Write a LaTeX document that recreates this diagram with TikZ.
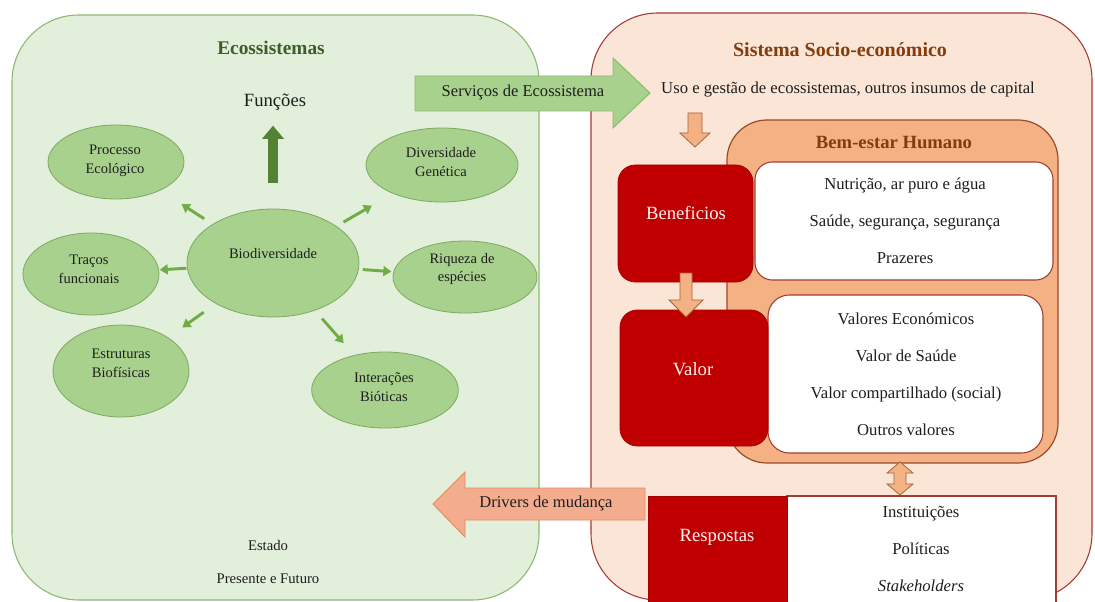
\documentclass[tikz,border=0pt]{standalone}
\usepackage{fontspec}
\setmainfont{Liberation Serif}
\usetikzlibrary{arrows.meta,calc,shapes.geometric}

\definecolor{ecobg}{HTML}{E2EFDA}
\definecolor{ecoline}{HTML}{8DB870}
\definecolor{ellfill}{HTML}{A9D18E}
\definecolor{ellline}{HTML}{7EA862}
\definecolor{smallarr}{HTML}{70AD47}
\definecolor{bigarr}{HTML}{548235}
\definecolor{ecotitle}{HTML}{3B5E2B}
\definecolor{sebg}{HTML}{FBE5D6}
\definecolor{seline}{HTML}{A33B34}
\definecolor{wellbg}{HTML}{F4B183}
\definecolor{wellline}{HTML}{9A4A2C}
\definecolor{titlebrown}{HTML}{843C0C}
\definecolor{boxred}{HTML}{C00000}
\definecolor{boxline}{HTML}{9E3F33}
\definecolor{drvfill}{HTML}{F4AC8E}
\definecolor{drvline}{HTML}{E08A66}
\definecolor{oarrfill}{HTML}{F4B183}
\definecolor{oarrline}{HTML}{A5643A}
\definecolor{svcfill}{HTML}{A9D18E}
\definecolor{svcline}{HTML}{8CB870}
\definecolor{inktext}{HTML}{1E1E1E}

\tikzset{
  eli/.style={ellipse, draw=ellline, fill=ellfill, line width=0.6pt, inner sep=0pt},
  elt/.style={align=center, text=inktext, font=\fontsize{10.9}{14}\selectfont},
  sarr/.style={draw=smallarr, line width=2.2pt, -{Triangle[length=6pt,width=7.5pt]}},
  barr/.style={draw=bigarr, line width=7.5pt, -{Triangle[length=10pt,width=16pt]}},
  body/.style={text=inktext, font=\fontsize{12.5}{15}\selectfont},
  lines/.style={align=center, text=inktext, font=\fontsize{12.5}{27.8}\selectfont},
  redlbl/.style={text=white!95!red, font=\fontsize{14}{16}\selectfont},
  whitebox/.style={draw=boxline, fill=white, line width=0.8pt, rounded corners=13pt},
  redbox/.style={draw=boxred!85!black, fill=boxred, line width=0.6pt, rounded corners=13pt},
  oarr/.style={draw=oarrline, fill=oarrfill, line width=0.6pt},
}

\begin{document}
\begin{tikzpicture}[x=0.75pt,y=-0.75pt]
\useasboundingbox (0,0) rectangle (1095,602);
\clip (0,0) rectangle (1095,602);

% two panels
\draw[fill=ecobg, draw=ecoline, line width=0.8pt, rounded corners=50pt] (12,15) rectangle (539,600);
\draw[fill=sebg, draw=seline, line width=0.8pt, rounded corners=50pt] (591,13) rectangle (1092,600);

% ecosystem components
\node[eli, minimum width=129pt, minimum height=81pt]   (bio)   at (273,263) {};
\node[eli, minimum width=102pt, minimum height=55.5pt] (proc)  at (116,162) {};
\node[eli, minimum width=114pt, minimum height=55.5pt] (div)   at (442,165) {};
\node[eli, minimum width=102pt, minimum height=61.5pt] (trac)  at (91,274) {};
\node[eli, minimum width=108pt, minimum height=54pt]   (riq)   at (465,277) {};
\node[eli, minimum width=102pt, minimum height=69pt]   (estr)  at (121,371) {};
\node[eli, minimum width=110pt, minimum height=57pt]   (inter) at (385,390) {};

\node[elt] (biot)   at (273,254) {Biodiversidade};
\node[elt] (proct)  at (115,161) {Processo\\Ecológico};
\node[elt] (divt)   at (441,162) {Diversidade\\Genética};
\node[elt] (tract)  at (89,269)  {Traços\\funcionais};
\node[elt] (riqt)   at (462,269) {Riqueza de\\espécies};
\node[elt] (estrt)  at (121,363) {Estruturas\\Biofísicas};
\node[elt] (intert) at (384,387) {Interações\\Bióticas};

\draw[sarr, shorten <=7.5pt, shorten >=19pt] (bio) -- (proc);
\draw[sarr, shorten <=6pt,   shorten >=18pt] (bio) -- (div);
\draw[sarr, shorten <=0.5pt, shorten >=0.5pt] (bio) -- (trac);
\draw[sarr, shorten <=3pt,   shorten >=1.5pt] (bio) -- (riq);
\draw[sarr, shorten <=11pt,  shorten >=13pt] (bio) -- (estr);
\draw[sarr, shorten <=8pt,   shorten >=12pt] (bio) -- (inter);

% functions
\node[text=inktext, font=\fontsize{14}{16}\selectfont] (func) at (275,102) {Funções};
\draw[barr, shorten <=19.5pt, shorten >=8pt] (bio.north) -- (bio.north |- func.south);

% panel titles and state labels
\node[text=ecotitle, font=\fontsize{14.5}{17}\selectfont\bfseries] (ecott) at (271,48) {Ecossistemas};
\node[text=inktext, font=\fontsize{11}{13}\selectfont] (est) at (268,545) {Estado};
\node[text=inktext, font=\fontsize{11}{13}\selectfont] (pf)  at (268,579) {Presente e Futuro};

\node[text=titlebrown, font=\fontsize{15}{18}\selectfont\bfseries] (sett) at (840,50) {Sistema Socio-económico};
\node[body] (uso) at (848,90) {Uso e gestão de ecossistemas, outros insumos de capital};

% ecosystem services block arrow
\draw[fill=svcfill, draw=svcline, line width=0.7pt]
  (415,76) -- (613,76) -- (613,58) -- (650,93) -- (613,128) -- (613,111) -- (415,111) -- cycle;
\node[body, font=\fontsize{12.4}{15}\selectfont] (svc) at (523,93) {Serviços de Ecossistema};

% use and management feeds benefits
\draw[oarr] (688,113) -- (702,113) -- (702,133) -- (710,133) -- (695,147) -- (680,133) -- (688,133) -- cycle;

% human well-being
\draw[fill=wellbg, draw=wellline, line width=0.9pt, rounded corners=30pt] (727,120) rectangle (1058,463);
\node[text=titlebrown, font=\fontsize{14}{17}\selectfont\bfseries] (wbt) at (894,143) {Bem-estar Humano};

\draw[whitebox] (755,162) rectangle (1053,280);
\draw[redbox] (618,165) rectangle (753,282);
\draw[whitebox, rounded corners=16pt] (768,295) rectangle (1043,453);
\draw[redbox] (620,310) rectangle (768,446);

\node[redlbl] (ben) at (686,213) {Beneficios};
\node[redlbl] (val) at (693,369) {Valor};
\node[lines] (benl) at (905,221) {Nutrição, ar puro e água\\Saúde, segurança, segurança\\Prazeres};
\node[lines] (vall) at (906,374) {Valores Económicos\\Valor de Saúde\\Valor compartilhado (social)\\Outros valores};

% benefits to value
\draw[oarr] (680,273) -- (692,273) -- (692,300) -- (703,300) -- (686,317) -- (669,300) -- (680,300) -- cycle;

% well-being <-> responses
\draw[oarr] (900,462) -- (913,473) -- (906,473) -- (906,484) -- (913,484) -- (900,495)
  -- (887,484) -- (894,484) -- (894,473) -- (887,473) -- cycle;

% responses
\draw[draw=boxline, fill=white, line width=0.8pt] (787,496) rectangle (1056,606);
\draw[draw=boxred!85!black, fill=boxred, line width=0.6pt] (648,496) rectangle (787,606);
\node[redlbl] (resp) at (717,537) {Respostas};
\node[lines] (respl) at (921,549) {Instituições\\Políticas\\\textit{Stakeholders}};

% drivers of change
\draw[fill=drvfill, draw=drvline, line width=0.7pt]
  (645,488) -- (465,488) -- (465,472) -- (433,504) -- (465,537) -- (465,520) -- (645,520) -- cycle;
\node[body, font=\fontsize{12.4}{15}\selectfont] (drv) at (546,504) {Drivers de mudança};
\end{tikzpicture}
\end{document}
